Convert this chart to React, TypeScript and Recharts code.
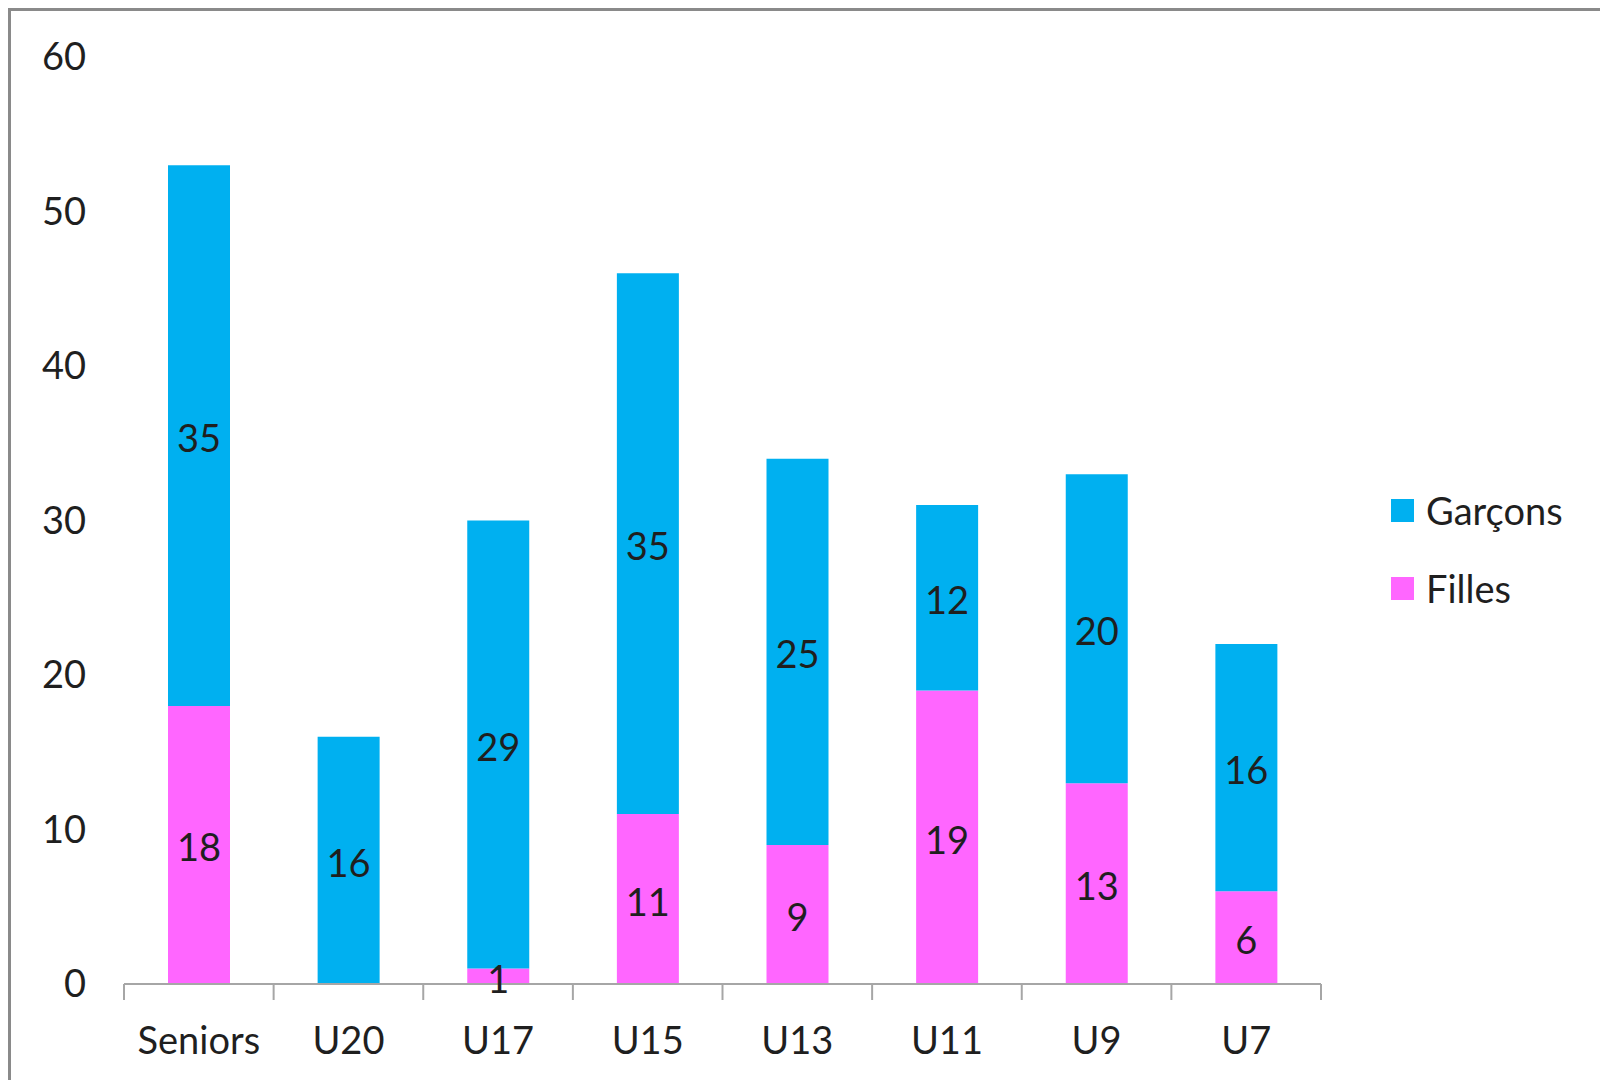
import { BarChart, Bar, XAxis, YAxis, Legend, LabelList } from 'recharts'

const categories = ['Seniors', 'U20', 'U17', 'U15', 'U13', 'U11', 'U9', 'U7']
const filles = [18, 0, 1, 11, 9, 19, 13, 6]
const garcons = [35, 16, 29, 35, 25, 12, 20, 16]
const yTicks = [0, 10, 20, 30, 40, 50, 60]

const BLUE = '#00B0F0'
const PINK = '#FF66FF'
const AXIS = '#A6A6A6'
const FONT = 'Lato, "Open Sans", sans-serif'
const TEXT = '#1f1f1f'

const data = categories.map((c, i) => ({ categorie: c, filles: filles[i], garcons: garcons[i] }))

const CategoryTick = (props: any) => {
  const { x, y, payload, index, width } = props
  const half = payload.offset ?? width / (2 * categories.length)
  return (
    <g>
      <line x1={x - half} y1={y} x2={x - half} y2={y + 16} stroke={AXIS} strokeWidth={2} />
      {index === categories.length - 1 && (
        <line x1={x + half} y1={y} x2={x + half} y2={y + 16} stroke={AXIS} strokeWidth={2} />
      )}
      <text x={x} y={y + 55} textAnchor="middle" dominantBaseline="central" fontSize={38} fontFamily={FONT} fill={TEXT}>
        {payload.value}
      </text>
    </g>
  )
}

const LegendContent = () => {
  const items = [
    { label: 'Garçons', color: BLUE },
    { label: 'Filles', color: PINK },
  ]
  return (
    <div style={{ fontFamily: FONT, fontSize: 38, color: TEXT }}>
      {items.map((it) => (
        <div key={it.label} style={{ display: 'flex', alignItems: 'center', height: 78 }}>
          <div style={{ width: 23, height: 23, backgroundColor: it.color, marginRight: 12 }} />
          <span>{it.label}</span>
        </div>
      ))}
    </div>
  )
}

const hideZero = (v: any) => (v === 0 ? '' : v)

export default function App() {
  return (
    <div
      style={{
        width: 1592,
        height: 1072,
        boxSizing: 'border-box',
        borderLeft: '3px solid #8a8a8a',
        borderTop: '3px solid #8a8a8a',
        background: '#fff',
        overflow: 'hidden',
      }}
    >
      <BarChart width={1589} height={1069} data={data} margin={{ top: 46, right: 79, bottom: 0, left: 2 }} barSize={62}>
        <XAxis
          dataKey="categorie"
          height={96}
          tickSize={0}
          tickMargin={0}
          axisLine={{ stroke: AXIS, strokeWidth: 2 }}
          tickLine={false}
          tick={<CategoryTick />}
          interval={0}
        />
        <YAxis
          domain={[0, 60]}
          ticks={yTicks}
          width={111}
          axisLine={false}
          tickLine={false}
          tickMargin={32}
          tick={{ fontSize: 38, fontFamily: FONT, fill: TEXT }}
        />
        <Legend
          layout="vertical"
          align="right"
          verticalAlign="middle"
          content={<LegendContent />}
          wrapperStyle={{ left: 1380, right: 'auto', top: 460, width: 200 }}
        />
        <Bar dataKey="filles" name="Filles" stackId="a" fill={PINK} isAnimationActive={false}>
          <LabelList dataKey="filles" position="center" formatter={hideZero} fontSize={38} fontFamily={FONT} fill={TEXT} dy={3} />
        </Bar>
        <Bar dataKey="garcons" name="Garçons" stackId="a" fill={BLUE} isAnimationActive={false}>
          <LabelList dataKey="garcons" position="center" formatter={hideZero} fontSize={38} fontFamily={FONT} fill={TEXT} dy={3} />
        </Bar>
      </BarChart>
    </div>
  )
}
